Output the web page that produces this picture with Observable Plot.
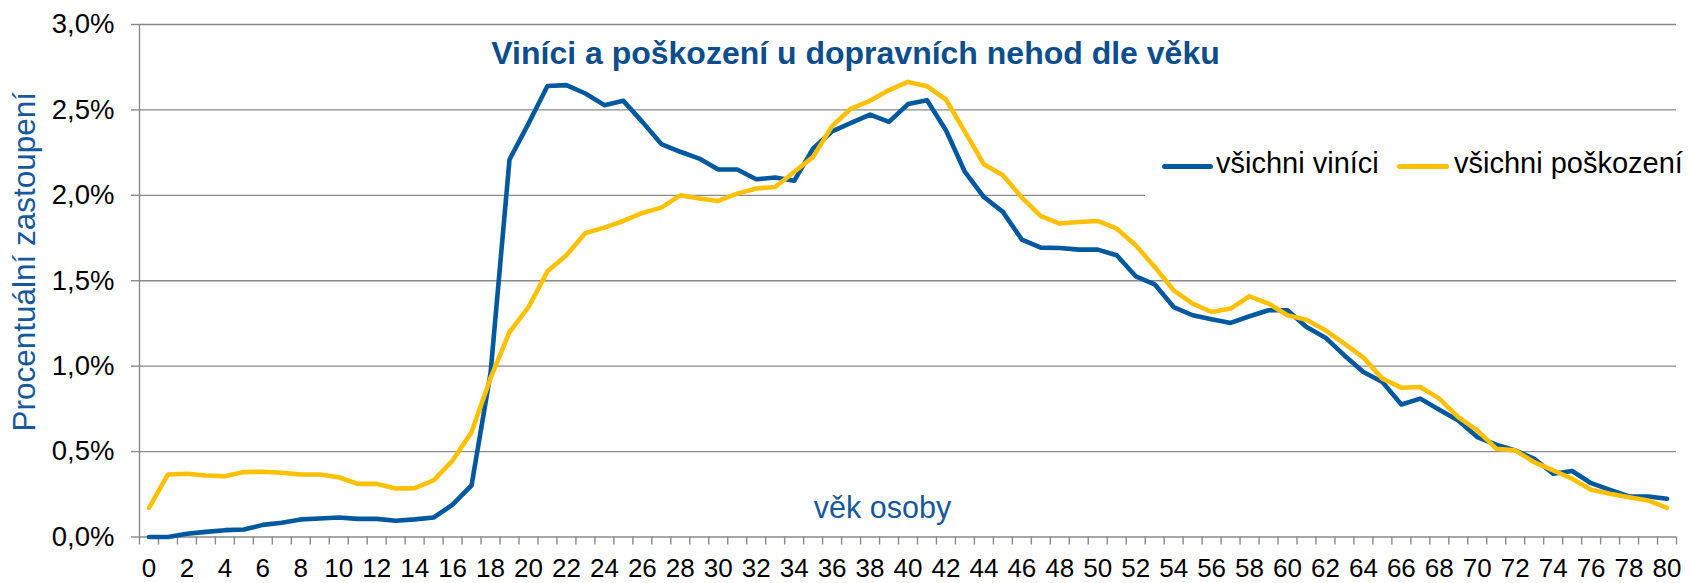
<!DOCTYPE html>
<html>
<head>
<meta charset="utf-8">
<script src="https://cdn.jsdelivr.net/npm/d3@7"></script>
<script src="https://cdn.jsdelivr.net/npm/@observablehq/plot@0.6"></script>
<style>
  html, body { margin: 0; padding: 0; background: #fff; }
  #wrap { position: relative; width: 1691px; height: 583px; font-family: "Liberation Sans", Arial, sans-serif; }
  #legend { position: absolute; left: 1145px; top: 132px; width: 546px; height: 66px; background: #fff; }
  .sw { position: absolute; top: 32px; height: 5px; border-radius: 3px; }
  .lt { position: absolute; top: 14px; font-size: 29px; line-height: 34px; color: #000; white-space: nowrap; }
</style>
</head>
<body>
<div id="wrap">
  <div id="chart"></div>
  <div id="legend"></div>
</div>
<script>
const ages = [0,1,2,3,4,5,6,7,8,9,10,11,12,13,14,15,16,17,18,19,20,21,22,23,24,25,26,27,28,29,30,31,32,33,34,35,36,37,38,39,40,41,42,43,44,45,46,47,48,49,50,51,52,53,54,55,56,57,58,59,60,61,62,63,64,65,66,67,68,69,70,71,72,73,74,75,76,77,78,79,80];
// všichni viníci (%)
const vinici = [0.00,0.00,0.019,0.030,0.040,0.044,0.071,0.083,0.103,0.108,0.114,0.106,0.106,0.095,0.103,0.114,0.189,0.302,0.96,2.21,
  2.42,2.64,2.645,2.596,2.528,2.553,2.43,2.30,2.255,2.215,2.151,2.151,2.094,2.104,2.085,2.274,2.375,2.424,2.473,2.43,
  2.534,2.557,2.381,2.137,1.99,1.903,1.741,1.694,1.692,1.682,1.682,1.649,1.526,1.479,1.346,1.298,1.274,1.253,1.292,1.327,
  1.327,1.229,1.167,1.063,0.966,0.907,0.776,0.81,0.745,0.682,0.585,0.54,0.507,0.458,0.37,0.386,0.315,0.276,0.237,0.237,0.224];
// všichni poškození (%)
const poskozeni = [0.171,0.366,0.370,0.36,0.356,0.380,0.382,0.376,0.366,0.366,0.350,0.311,0.311,0.284,0.286,0.331,0.448,0.614,0.93,1.20,
  1.346,1.555,1.649,1.78,1.811,1.85,1.897,1.928,2.0,1.981,1.967,2.01,2.04,2.049,2.137,2.225,2.405,2.508,2.553,2.616,
  2.664,2.639,2.561,2.371,2.182,2.118,1.987,1.878,1.835,1.844,1.85,1.805,1.708,1.581,1.444,1.366,1.317,1.337,1.409,1.366,
  1.298,1.272,1.21,1.132,1.05,0.927,0.874,0.878,0.81,0.702,0.624,0.517,0.507,0.438,0.39,0.341,0.276,0.253,0.233,0.214,0.171];
const xLabelTicks = [0,2,4,6,8,10,12,14,16,18,20,22,24,26,28,30,32,34,36,38,40,42,44,46,48,50,52,54,56,58,60,62,64,66,68,70,72,74,76,78,80];
const yTicks = [0, 0.5, 1.0, 1.5, 2.0, 2.5, 3.0];
const seriesNames = ["všichni viníci", "všichni poškození"];
const seriesColors = ["#00599f", "#ffc000"];
const title = "Viníci a poškození u dopravních nehod dle věku";
const xTitle = "věk osoby";
const yTitle = "Procentuální zastoupení";

const boundaries = ages.map(a => a - 0.5).concat([ages[ages.length - 1] + 0.5]);
const grid = "#8a8a8a";
const fmt = d => d.toFixed(1).replace(".", ",") + "%";

const chart = Plot.plot({
  width: 1691,
  height: 583,
  marginLeft: 139,
  marginRight: 15,
  marginTop: 24,
  marginBottom: 46.5,
  style: { fontFamily: "'Liberation Sans', Arial, sans-serif", background: "#fff", overflow: "visible" },
  x: { domain: [boundaries[0], boundaries[boundaries.length - 1]] },
  y: { domain: [0, 3] },
  marks: [
    Plot.ruleY(yTicks, { stroke: grid, strokeWidth: 1.4 }),
    Plot.ruleX([boundaries[0]], { stroke: grid, strokeWidth: 1.4 }),
    Plot.axisY({ ticks: yTicks, tickFormat: fmt, tickSize: 8, tickPadding: 17, fontSize: 27.5, stroke: grid, strokeWidth: 1.4, fill: "#000", label: null }),
    Plot.axisX({ ticks: boundaries, tickFormat: () => "", tickSize: 8, stroke: grid, strokeWidth: 1.4, label: null }),
    Plot.axisX({ ticks: xLabelTicks, tickFormat: d => String(d), tickSize: 0, tickPadding: 22, fontSize: 26, fill: "#000", label: null }),
    Plot.line(ages, { x: ages, y: vinici, stroke: seriesColors[0], strokeWidth: 4.6, strokeLinejoin: "round", strokeLinecap: "round" }),
    Plot.line(ages, { x: ages, y: poskozeni, stroke: seriesColors[1], strokeWidth: 4.6, strokeLinejoin: "round", strokeLinecap: "round" }),
    Plot.text([title], { frameAnchor: "top-left", dx: 716, dy: 39, text: d => d, textAnchor: "middle", lineAnchor: "bottom", fontSize: 32, fontWeight: "bold", fill: "#0c4e8b" }),
    Plot.text([xTitle], { frameAnchor: "top-left", dx: 743, dy: 493, text: d => d, textAnchor: "middle", lineAnchor: "bottom", fontSize: 30.5, fill: "#17589b" }),
    Plot.text([yTitle], { frameAnchor: "left", dx: -115, dy: -19, text: d => d, textAnchor: "middle", lineAnchor: "middle", rotate: -90, fontSize: 31.5, fill: "#17589b" })
  ]
});
document.getElementById("chart").appendChild(chart);

// legend (positions relative to legend box at left 1145)
const legend = document.getElementById("legend");
const items = [
  { swLeft: 1162 - 1145, swW: 51, txtLeft: 1216 - 1145 },
  { swLeft: 1397 - 1145, swW: 52, txtLeft: 1454 - 1145 }
];
items.forEach((it, i) => {
  const sw = document.createElement("div");
  sw.className = "sw";
  sw.style.left = it.swLeft + "px";
  sw.style.width = it.swW + "px";
  sw.style.background = seriesColors[i];
  legend.appendChild(sw);
  const t = document.createElement("div");
  t.className = "lt";
  t.style.left = it.txtLeft + "px";
  t.textContent = seriesNames[i];
  legend.appendChild(t);
});
</script>
</body>
</html>
